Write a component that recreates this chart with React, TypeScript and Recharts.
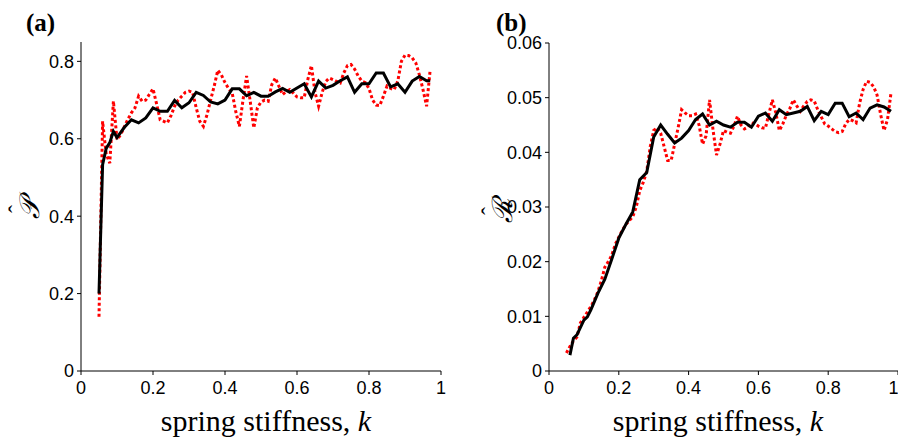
import { Line, LineChart, XAxis, YAxis } from 'recharts'

// stiffness grid for the dotted (sampled) curves
const kFine = [
  0.05, 0.06, 0.07, 0.08, 0.09, 0.1, 0.11, 0.12, 0.13, 0.14, 0.15, 0.16, 0.17, 0.18, 0.19,
  0.2, 0.21, 0.22, 0.23, 0.24, 0.25, 0.26, 0.27, 0.28, 0.29, 0.3, 0.31, 0.32, 0.33, 0.34,
  0.35, 0.36, 0.37, 0.38, 0.39, 0.4, 0.41, 0.42, 0.43, 0.44, 0.45, 0.46, 0.47, 0.48, 0.49,
  0.5, 0.51, 0.52, 0.53, 0.54, 0.55, 0.56, 0.57, 0.58, 0.59, 0.6, 0.61, 0.62, 0.63, 0.64,
  0.65, 0.66, 0.67, 0.68, 0.69, 0.7, 0.71, 0.72, 0.73, 0.74, 0.75, 0.76, 0.77, 0.78, 0.79,
  0.8, 0.81, 0.82, 0.83, 0.84, 0.85, 0.86, 0.87, 0.88, 0.89, 0.9, 0.91, 0.92, 0.93, 0.94,
  0.95, 0.96, 0.97, 0.98,
]

// panel (a): P hat
const redP = [
  0.14, 0.645, 0.56, 0.537, 0.697, 0.598, 0.61, 0.63, 0.65, 0.667, 0.68, 0.71, 0.697, 0.7, 0.715,
  0.729, 0.69, 0.649, 0.645, 0.641, 0.66, 0.684, 0.7, 0.71, 0.72, 0.723, 0.72, 0.68, 0.645, 0.632,
  0.662, 0.7, 0.736, 0.777, 0.765, 0.745, 0.73, 0.718, 0.67, 0.632, 0.7, 0.762, 0.697, 0.628, 0.68,
  0.695, 0.7, 0.697, 0.74, 0.757, 0.735, 0.714, 0.722, 0.727, 0.718, 0.708, 0.706, 0.706, 0.753, 0.789,
  0.72, 0.684, 0.72, 0.748, 0.757, 0.753, 0.748, 0.744, 0.77, 0.789, 0.792, 0.78, 0.762, 0.749, 0.745,
  0.73, 0.7, 0.687, 0.686, 0.71, 0.736, 0.73, 0.727, 0.749, 0.8, 0.816, 0.815, 0.809, 0.796, 0.765,
  0.727, 0.684, 0.779,
]
const kBlackA = [
  0.05, 0.06, 0.07, 0.08, 0.09, 0.1, 0.12, 0.14, 0.16, 0.18, 0.2, 0.22, 0.24, 0.26, 0.28, 0.3,
  0.32, 0.34, 0.36, 0.38, 0.4, 0.42, 0.44, 0.46, 0.48, 0.5, 0.52, 0.54, 0.56, 0.58, 0.6, 0.62,
  0.64, 0.66, 0.68, 0.7, 0.72, 0.74, 0.76, 0.78, 0.8, 0.82, 0.84, 0.86, 0.88, 0.9, 0.92, 0.94,
  0.96, 0.97,
]
const blackP = [
  0.2, 0.533, 0.575, 0.59, 0.619, 0.603, 0.629, 0.649, 0.641, 0.654, 0.68, 0.671, 0.671, 0.699, 0.68, 0.693,
  0.72, 0.712, 0.695, 0.69, 0.7, 0.729, 0.729, 0.711, 0.72, 0.71, 0.71, 0.721, 0.73, 0.72, 0.731, 0.742,
  0.708, 0.749, 0.731, 0.738, 0.75, 0.76, 0.72, 0.742, 0.742, 0.77, 0.77, 0.734, 0.742, 0.72, 0.749, 0.761,
  0.75, 0.75,
]

// panel (b): R hat
const redR = [
  0.0033, 0.0045, 0.0055, 0.0062, 0.0088, 0.0098, 0.0108, 0.0118, 0.013, 0.0145, 0.0165, 0.019, 0.02, 0.0212, 0.0232,
  0.0245, 0.0257, 0.0268, 0.0275, 0.0282, 0.03, 0.033, 0.0345, 0.0365, 0.041, 0.044, 0.0445, 0.0435, 0.041, 0.0385,
  0.0385, 0.0415, 0.0445, 0.0478, 0.0472, 0.0467, 0.0467, 0.047, 0.045, 0.0415, 0.043, 0.0496, 0.0441, 0.0395, 0.0415,
  0.044, 0.0437, 0.0435, 0.0448, 0.0466, 0.045, 0.0443, 0.0446, 0.0454, 0.0452, 0.0448, 0.0445, 0.0444, 0.047, 0.0496,
  0.0472, 0.044, 0.0452, 0.0468, 0.048, 0.0496, 0.0485, 0.0475, 0.0485, 0.0493, 0.0496, 0.0494, 0.0478, 0.0465, 0.0452,
  0.0448, 0.0443, 0.0438, 0.0436, 0.0438, 0.0452, 0.046, 0.0458, 0.0454, 0.049, 0.0515, 0.053, 0.0528, 0.052, 0.0505,
  0.047, 0.044, 0.046, 0.0509,
]
const kBlackB = [
  0.06, 0.07, 0.08, 0.1, 0.11, 0.12, 0.14, 0.16, 0.18, 0.2, 0.22, 0.24, 0.26, 0.28, 0.3, 0.32,
  0.34, 0.36, 0.38, 0.4, 0.42, 0.44, 0.46, 0.48, 0.5, 0.52, 0.54, 0.56, 0.58, 0.6, 0.62, 0.64,
  0.66, 0.68, 0.7, 0.72, 0.74, 0.76, 0.78, 0.8, 0.82, 0.84, 0.86, 0.88, 0.9, 0.92, 0.94, 0.96, 0.98,
]
const blackR = [
  0.0029, 0.006, 0.0066, 0.0093, 0.0099, 0.0112, 0.0142, 0.0168, 0.0205, 0.0243, 0.0268, 0.0291, 0.035, 0.0363, 0.0428, 0.045,
  0.0433, 0.0417, 0.0426, 0.044, 0.046, 0.047, 0.045, 0.0457, 0.045, 0.0446, 0.0455, 0.0455, 0.0446, 0.0466, 0.0472, 0.0457,
  0.0478, 0.0469, 0.0472, 0.0475, 0.0484, 0.0458, 0.0475, 0.0469, 0.049, 0.049, 0.0465, 0.0472, 0.046, 0.0481, 0.0487, 0.0483, 0.0475,
]

const xTicks = [0, 0.2, 0.4, 0.6, 0.8, 1]
const pTicks = [0, 0.2, 0.4, 0.6, 0.8]
const rTicks = [0, 0.01, 0.02, 0.03, 0.04, 0.05, 0.06]

const SANS = '"Liberation Sans", Arial, Helvetica, sans-serif'
const SERIF = '"Liberation Serif", "Times New Roman", serif'

const toRows = (ks: number[], vs: number[]) => vs.map((v, i) => ({ k: ks[i], v }))

const tickStyle = { fill: '#000', fontSize: 18, fontFamily: SANS }

type PanelProps = {
  left: number
  yWidth: number
  right: number
  top: number
  yMax: number
  yTicks: number[]
  red: { k: number; v: number }[]
  black: { k: number; v: number }[]
}

function Panel({ left, yWidth, right, top, yMax, yTicks, red, black }: PanelProps) {
  return (
    <div style={{ position: 'absolute', left, top: 0 }}>
      <LineChart
        width={449}
        height={441}
        margin={{ top, right, bottom: 40, left: 0 }}
      >
        <XAxis
          type="number"
          dataKey="k"
          domain={[0, 1]}
          ticks={xTicks}
          height={30}
          tickSize={4}
          tickMargin={6}
          tick={tickStyle}
          stroke="#000"
          allowDataOverflow
        />
        <YAxis
          type="number"
          dataKey="v"
          domain={[0, yMax]}
          ticks={yTicks}
          width={yWidth}
          tickSize={4}
          tickMargin={3}
          tick={tickStyle}
          stroke="#000"
          allowDataOverflow
        />
        <Line
          data={red}
          dataKey="v"
          type="linear"
          stroke="#ff0000"
          strokeWidth={3}
          strokeDasharray="3 2.5"
          dot={false}
          isAnimationActive={false}
        />
        <Line
          data={black}
          dataKey="v"
          type="linear"
          stroke="#000"
          strokeWidth={3}
          dot={false}
          isAnimationActive={false}
        />
      </LineChart>
    </div>
  )
}

export default function App() {
  return (
    <div style={{ position: 'absolute', left: 0, top: 0, width: 898, height: 441, background: '#fff' }}>
      <Panel
        left={0}
        yWidth={81}
        right={8}
        top={42}
        yMax={0.85}
        yTicks={pTicks}
        red={toRows(kFine, redP)}
        black={toRows(kBlackA, blackP)}
      />
      <Panel
        left={449}
        yWidth={100}
        right={0}
        top={43}
        yMax={0.06}
        yTicks={rTicks}
        red={toRows(kFine, redR)}
        black={toRows(kBlackB, blackR)}
      />
      <svg
        width={898}
        height={441}
        style={{ position: 'absolute', left: 0, top: 0, pointerEvents: 'none' }}
      >
        <text x={26} y={31} fontFamily={SERIF} fontWeight="bold" fontSize={25}>(a)</text>
        <text x={496} y={31} fontFamily={SERIF} fontWeight="bold" fontSize={25}>(b)</text>

        <g transform="translate(39,209) rotate(-90)">
          <text textAnchor="middle" fontFamily={SERIF} fontStyle="italic" fontSize={28}>𝒫</text>
          <text y={-14} textAnchor="middle" fontFamily={SERIF} fontSize={24}>ˆ</text>
        </g>
        <g transform="translate(512,211) rotate(-90)">
          <text textAnchor="middle" fontFamily={SERIF} fontStyle="italic" fontSize={28}>ℛ</text>
          <text y={-14} textAnchor="middle" fontFamily={SERIF} fontSize={24}>ˆ</text>
        </g>

        <text x={266} y={431} textAnchor="middle" fontFamily={SERIF} fontSize={30}>
          spring stiffness, <tspan fontStyle="italic">k</tspan>
        </text>
        <text x={718} y={431} textAnchor="middle" fontFamily={SERIF} fontSize={30}>
          spring stiffness, <tspan fontStyle="italic">k</tspan>
        </text>
      </svg>
    </div>
  )
}
